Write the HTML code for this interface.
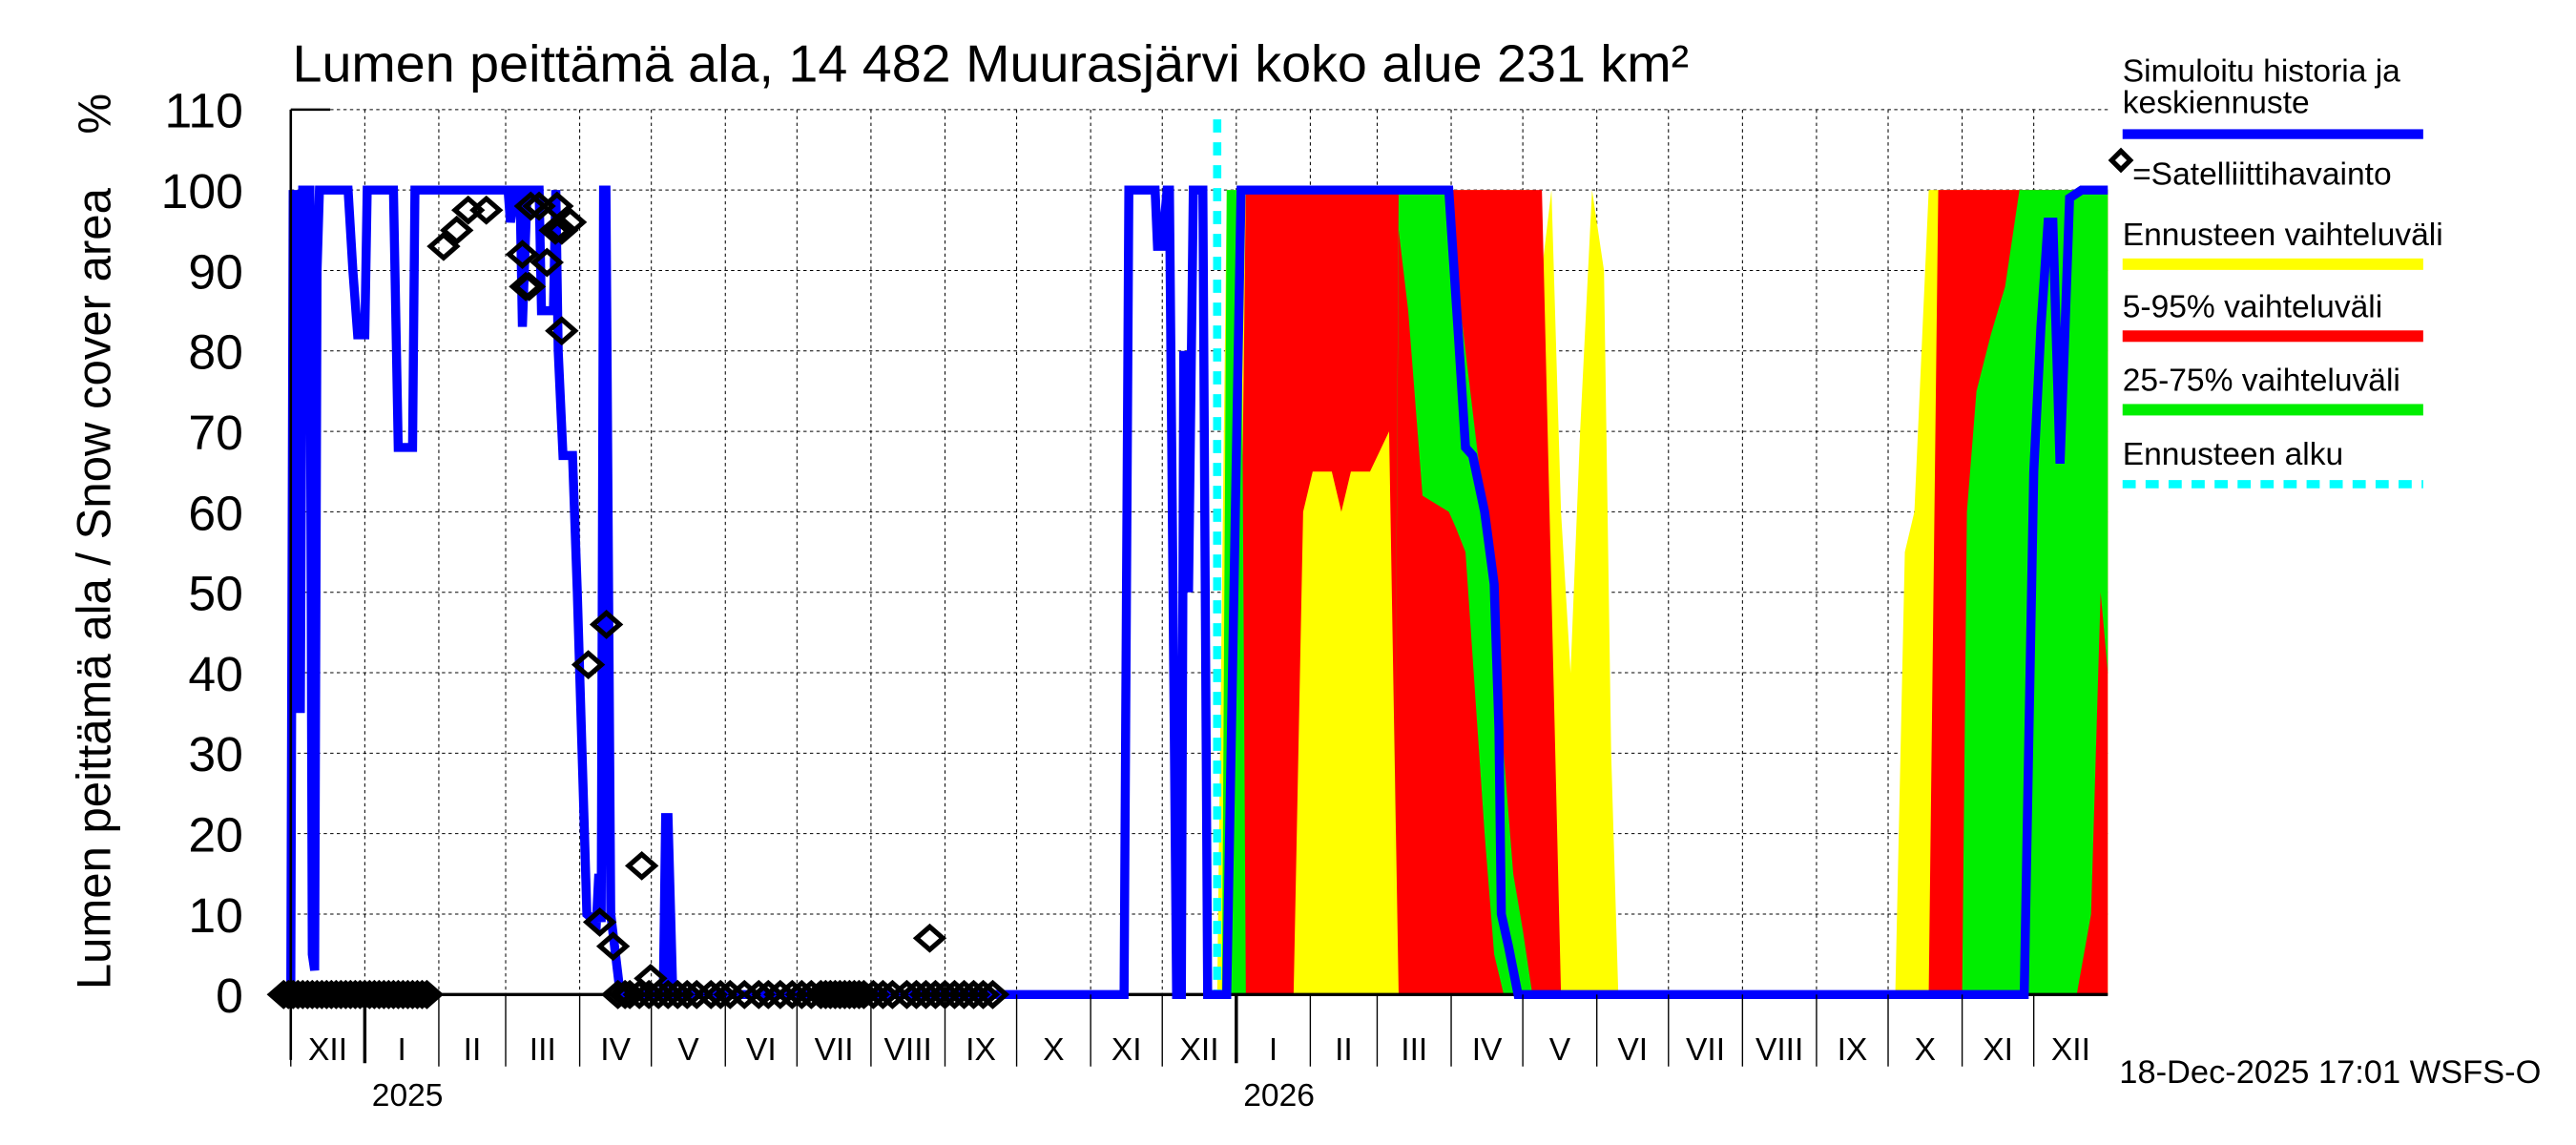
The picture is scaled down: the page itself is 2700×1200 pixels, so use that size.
<!DOCTYPE html>
<html><head><meta charset="utf-8"><style>
html,body{margin:0;padding:0;background:#fff;}
svg{display:block;font-family:"Liberation Sans",sans-serif;}
</style></head><body>
<svg id="chart" width="2700" height="1200" viewBox="0 0 1568 700" preserveAspectRatio="none" xmlns="http://www.w3.org/2000/svg">
<text x="178" y="50" font-size="32" textLength="850" lengthAdjust="spacingAndGlyphs">Lumen peittämä ala, 14 482 Muurasjärvi koko alue 231 km²</text>
<text transform="translate(67,360) rotate(-90)" text-anchor="middle" font-size="29" textLength="490" lengthAdjust="spacingAndGlyphs">Lumen peittämä ala / Snow cover area</text>
<text transform="translate(67,82) rotate(-90)" font-size="28">%</text>
<g id="grid"></g><g id="bands"></g><g id="lines"></g><g id="obs"></g><g id="axes"></g>
<g font-size="19.5">
<text x="1292" y="50">Simuloitu historia ja</text><text x="1292" y="69">keskiennuste</text>
<rect x="1292" y="79" width="183" height="6" fill="#0000ff"/>
<rect x="1287" y="94" width="8" height="8" transform="rotate(45 1291 98)" fill="none" stroke="#000" stroke-width="3"/>
<text x="1298" y="113">=Satelliittihavainto</text>
<text x="1292" y="150">Ennusteen vaihteluväli</text>
<rect x="1292" y="158" width="183" height="7" fill="#ffff00"/>
<text x="1292" y="194">5-95% vaihteluväli</text>
<rect x="1292" y="202" width="183" height="7" fill="#ff0000"/>
<text x="1292" y="239">25-75% vaihteluväli</text>
<rect x="1292" y="247" width="183" height="7" fill="#00ee00"/>
<text x="1292" y="284">Ennusteen alku</text>
<line x1="1292" y1="296" x2="1475" y2="296" stroke="#00ffff" stroke-width="5" stroke-dasharray="8,6"/>
</g>
<text x="1290" y="662" font-size="20">18-Dec-2025 17:01 WSFS-O</text>
</svg>
<script>
const months=["XII","I","II","III","IV","V","VI","VII","VIII","IX","X","XI","XII","I","II","III","IV","V","VI","VII","VIII","IX","X","XI","XII"];
const monthDays=[31,31,28,31,30,31,30,31,31,30,31,30,31,31,28,31,30,31,30,31,31,30,31,30,31];
const yTicks=[0,10,20,30,40,50,60,70,80,90,100,110];
const years=["2025","2026"];
const forecastStartDay=388;
const simDays=[0,1,2,3,4,5,6,8,9,10,11,12,24,26,28,31,32,43,45,51,52,91,92,94,96,97,99,104,105,110,111,112,114,118,120,122,124,128,129,130,131,132,134,136,138,156,157,158,160,349,351,362,363,365,367,368,371,373,374,376,378,382,384,392,398,485,489,492,495,500,504,506,507,510,514,726,728,730,733,736,738,741,743,745,750,761];
const simVals=[0,100,35,100,35,100,100,100,5,3,90,100,100,90,82,82,100,100,68,68,100,100,96,100,100,83,100,100,85,85,100,80,67,67,50,30,10,9,15,9,100,100,10,5,0,0,22,22,0,0,100,100,93,93,100,100,0,0,80,50,100,100,0,0,100,100,82,68,67,60,51,33,10,6,0,0,33,65,83,96,96,66,82,99,100,100];
const yelDays=[388,392,512,516,520,524,528,532,536,540,545,550,553,556,672,676,680,686,761];
const yelHi=[0,100,100,100,100,90,100,60,40,70,100,90,30,0,0,55,60,100,100];
const redDays=[396,400,420,424,428,436,440,444,452,460,464,524,528,532,686,690,761];
const redHi=[0,100,100,100,100,100,100,100,100,100,100,100,50,0,0,100,100];
const redLo=[0,0,0,60,65,65,60,65,65,70,0,0,0,0,0,0,0];
const grnDays1=[390,392,398,400];
const grnHi1=[0,100,100,0];
const grnLo1=[0,0,0,0];
const grnDays2=[462,464,468,474,485,488,492,500,504,508,512,516,520];
const grnHi2=[0,100,100,100,100,90,80,60,45,30,15,8,0];
const grnLo2=[0,95,85,62,60,58,55,20,5,0,0,0,0];
const grnDays3=[700,702,706,712,718,724,736,748,754,758,761];
const grnHi3=[0,60,75,82,88,100,100,100,100,100,100];
const grnLo3=[0,0,0,0,0,0,0,0,10,50,40];
const obsDays=[64,69.5,74.3,81.9,97,98.4,99.8,100.5,104,107.3,110.8,111.5,113.5,117,113.5,124.6,129.4,132.2,135,147,150.7,267.6];
const obsVals=[93,95,97.5,97.5,92,88,88,98,98,91,95,98,95,96,82.5,41,9,46,6,16,2,7];
const zeroObsDays=[-3,-1,1,3,5,7,9,11,13,15,17,19,21,23,25,27,29,31,33,35,37,39,41,43,45,47,49,51,53,55,57,137,140,142,146,150,154,158,162,166,170,176,180,184,190,196,200,205,210,214,218,222,224,226,228,230,232,234,236,238,240,244,248,252,258,262,266,270,274,278,282,286,290,294];
const X0=177,X1=1283,Y0=608,Y1=67,TOT=761;
const xs=d=>X0+d*(X1-X0)/TOT;
const ys=v=>Y0-v*(Y0-Y1)/110;
const NS="http://www.w3.org/2000/svg";
function mk(tag,parent,attrs){const e=document.createElementNS(NS,tag);for(const k in attrs)e.setAttribute(k,attrs[k]);document.getElementById(parent).appendChild(e);return e;}
for(const t of yTicks){
 const l=mk('line','grid',{x1:X0,x2:X1,y1:ys(t),y2:ys(t),stroke:'#000','stroke-width':0.6,'stroke-dasharray':'2,2'});
 
 
 const tx=mk('text','axes',{x:148,y:ys(t)+11,'text-anchor':'end','font-size':30});
 tx.textContent=t;
 
 
}
let d=0,yi=0;
months.forEach((m,i)=>{
 const xa=xs(d),xb=xs(d+monthDays[i]);
 const g=mk('line','grid',{x1:xa,x2:xa,y1:Y1,y2:Y0,stroke:'#000','stroke-width':0.6,'stroke-dasharray':'2,2'});
 
 
 const isYear=(m==="I");
 const tk=mk('line','axes',{x1:xa,x2:xa,y1:Y0,y2:isYear?650:652,stroke:'#000','stroke-width':isYear?2:0.8});
 
 
 const t=mk('text','axes',{x:(xa+xb)/2,y:648,'text-anchor':'middle','font-size':19.5});
 t.textContent=m;
 
 
 if(isYear){const yt=mk('text','axes',{x:xa+26,y:676,'text-anchor':'middle','font-size':19.5});yt.textContent=years[yi++];
 
 }
 d+=monthDays[i];
});
function band(days,hi,lo,color,name){
 let p=days.map((dd,i)=>xs(dd)+','+ys(hi[i]));
 for(let i=days.length-1;i>=0;i--)p.push(xs(days[i])+','+ys(lo?lo[i]:0));
 const e=mk('polygon','bands',{points:p.join(' '),fill:color});
 
 
}
band(yelDays,yelHi,null,'#ffff00','band-min-max');
band(redDays,redHi,redLo,'#ff0000','band-5-95');
band(grnDays1,grnHi1,grnLo1,'#00ee00','band-25-75');
band(grnDays2,grnHi2,grnLo2,'#00ee00','band-25-75');
band(grnDays3,grnHi3,grnLo3,'#00ee00','band-25-75');
const la=mk('line','axes',{x1:X0,x2:X0,y1:Y1,y2:Y0+40,stroke:'#000','stroke-width':1.5});


const ta=mk('line','axes',{x1:X0,x2:X0+24,y1:Y1,y2:Y1,stroke:'#000','stroke-width':1.5});


const ba=mk('line','lines',{x1:X0,x2:X1,y1:Y0,y2:Y0,stroke:'#000','stroke-width':2});


const fc=mk('line','lines',{x1:xs(forecastStartDay),x2:xs(forecastStartDay),y1:73,y2:Y0,stroke:'#00ffff','stroke-width':5,'stroke-dasharray':'8,6'});


const sl=mk('polyline','lines',{points:simDays.map((dd,i)=>xs(dd)+','+ys(simVals[i])).join(' '),fill:'none',stroke:'#0000ff','stroke-width':5.5,'stroke-linejoin':'miter'});


function diamond(dd,v){
 const cx=xs(dd),cy=ys(v);
 const e=mk('polygon','obs',{points:`${cx-8},${cy} ${cx},${cy-7} ${cx+8},${cy} ${cx},${cy+7}`,fill:'none',stroke:'#000','stroke-width':3});
 
 
}
obsDays.forEach((dd,i)=>diamond(dd,obsVals[i]));
zeroObsDays.forEach(dd=>diamond(dd,0));
</script>
</body></html>
